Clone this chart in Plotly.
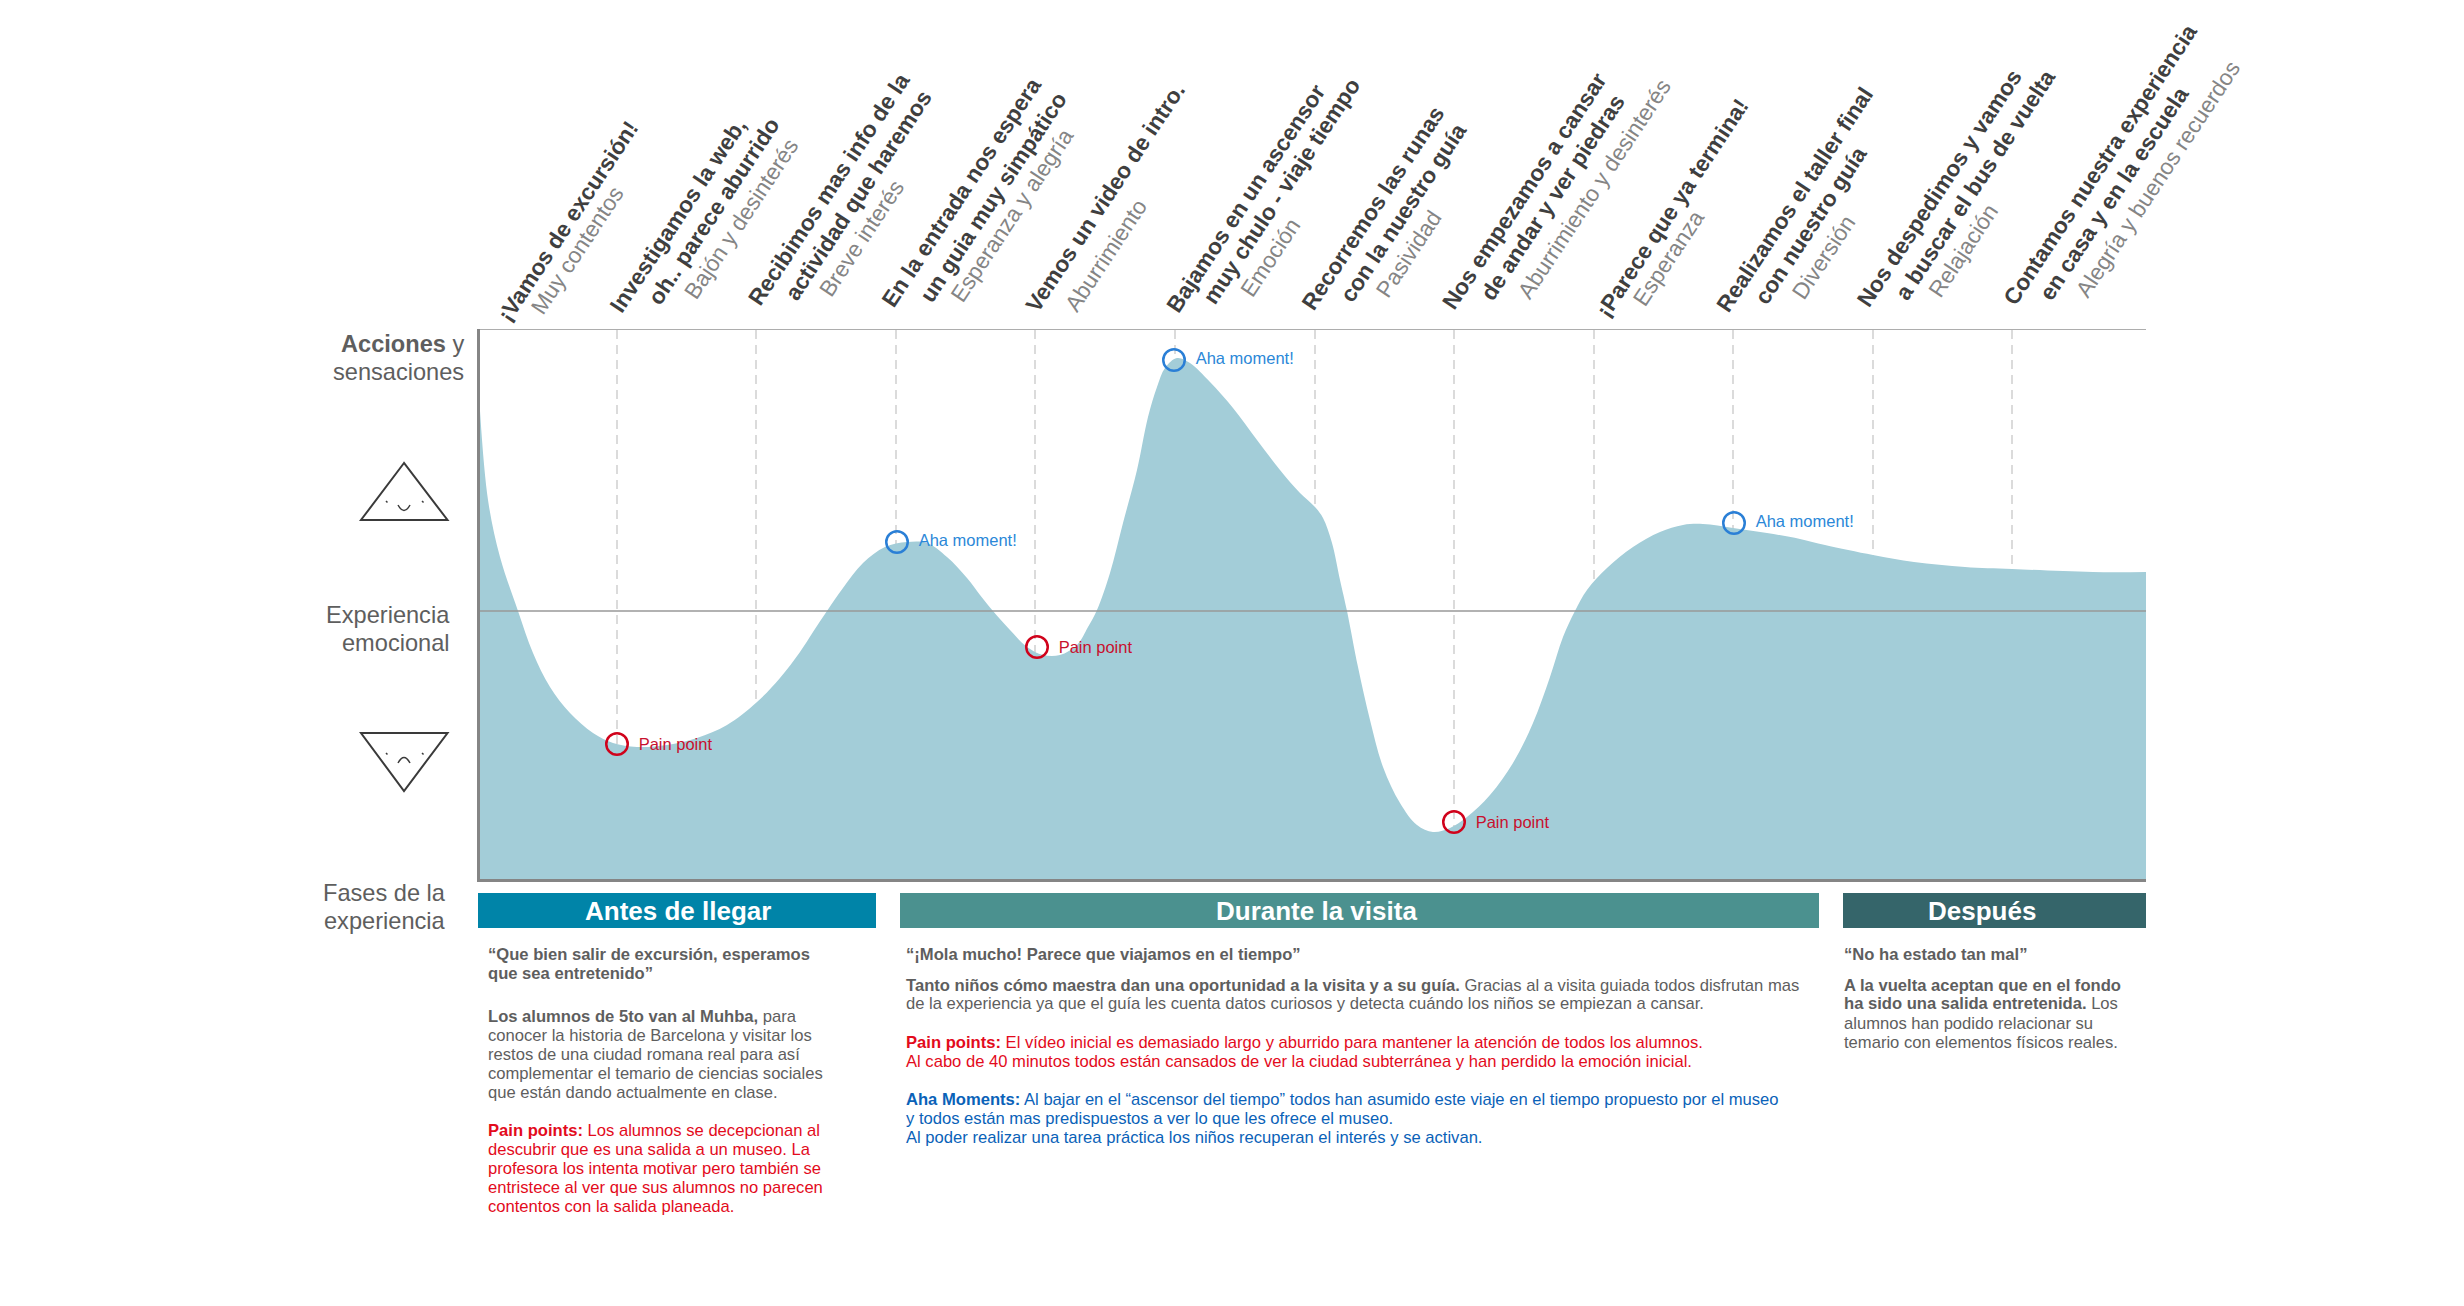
import plotly.graph_objects as go

W, H = 2464, 1306
PLOT_L, PLOT_R, PLOT_T, PLOT_B = 480, 2146, 329, 879

# --- data -------------------------------------------------------------
curve_x = [0,8,20,38,53,70,90,113,133,157,187,217,247,277,300,320,333,347,363,383,405,427,447,467,487,500,513,530,547,563,580,597,608,617,630,643,657,668,677,685,697,710,730,753,777,800,820,835,843,852,860,867,878,890,903,920,937,953,970,987,1010,1033,1053,1070,1083,1095,1107,1127,1153,1180,1203,1223,1253,1287,1320,1345,1393,1434,1485,1532,1613,1666]
curve_y = [200,111,54,0,-42,-76,-102,-122,-132,-136,-134,-127,-114,-91,-67,-41,-21,0,23,48,64,69,68,54,33,16,0,-19,-36,-44,-44,-34,-16,1,38,88,141,194,224,243,253,248,229,203,171,141,118,104,93,68,31,0,-56,-109,-156,-192,-214,-221,-217,-206,-184,-152,-112,-66,-26,0,21,43,64,79,86,87,83,78,72,66,56,49,44,42,39,39]
step_x = [137,276,416,555,695,835,974,1114,1253,1393,1532]
pain_x, pain_y = [137,557,974], [-133,-36,-211]
aha_x, aha_y = [417,694,1254], [69,251,88]

# line starts (page px), text
head_lines = [
 (501,325,"¡Vamos de excursión!",1),(532,315,"Muy contentos",0),
 (613,315,"Investigamos la web,",1),(651,307,"oh.. parece aburrido",1),(686,300,"Bajón y desinterés",0),
 (751,308,"Recibimos mas info de la",1),(788,303,"actividad que haremos",1),(820,297,"Breve interés",0),
 (885,310,"En la entrada nos espera",1),(923,305,"un guia muy simpático",1),(952,303,"Esperanza y alegría",0),
 (1029,315,"Vemos un video de intro.",1),(1066,312,"Aburrimiento",0),
 (1170,315,"Bajamos en un ascensor",1),(1206,307,"muy chulo - viaje tiempo",1),(1241,298,"Emoción",0),
 (1305,313,"Recorremos las runas",1),(1343,305,"con la nuestro guía",1),(1377,298,"Pasividad",0),
 (1445,312,"Nos empezamos a cansar",1),(1484,303,"de andar y ver piedras",1),(1519,300,"Aburrimiento y desinterés",0),
 (1599,320,"¡Parece que ya termina!",1),(1634,307,"Esperanza",0),
 (1720,315,"Realizamos el taller final",1),(1758,307,"con nuestro guía",1),(1793,300,"Diversión",0),
 (1860,310,"Nos despedimos y vamos",1),(1898,303,"a buscar el bus de vuelta",1),(1930,298,"Relajación",0),
 (2007,308,"Contamos nuestra experiencia",1),(2043,303,"en casa y en la escuela",1),(2077,298,"Alegría y buenos recuerdos",0),
]
side_labels = [
 (465,344,"<b>Acciones</b> y"),(465,372,"sensaciones"),
 (451,615,"Experiencia"),(451,643,"emocional"),
 (447,893,"Fases de la"),(447,921,"experiencia"),
]
phases = [
 (478,876,678,"Antes de llegar","#0084a8"),
 (900,1819,1316,"Durante la visita","#4b918f"),
 (1843,2146,1982,"Después","#35656a"),
]
DK,RD,BL = "#5e5e5e","#e30b1c","#0a62b8"
body_lines = [
 (487,954,"<b>“Que bien salir de excursión, esperamos</b>",DK),(487,973,"<b>que sea entretenido”</b>",DK),
 (487,1016,"<b>Los alumnos de 5to van al Muhba,</b> para",DK),(487,1035,"conocer la historia de Barcelona y visitar los",DK),
 (487,1054,"restos de una ciudad romana real para así",DK),(487,1073,"complementar el temario de ciencias sociales",DK),
 (487,1092,"que están dando actualmente en clase.",DK),
 (487,1130,"<b>Pain points:</b> Los alumnos se decepcionan al",RD),(487,1149,"descubrir que es una salida a un museo. La",RD),
 (487,1168,"profesora los intenta motivar pero también se",RD),(487,1187,"entristece al ver que sus alumnos no parecen",RD),
 (487,1206,"contentos con la salida planeada.",RD),
 (905,954,"<b>“¡Mola mucho! Parece que viajamos en el tiempo”</b>",DK),
 (905,985,"<b>Tanto niños cómo maestra dan una oportunidad a la visita y a su guía.</b> Gracias al a visita guiada todos disfrutan mas",DK),
 (905,1004,"de la experiencia ya que el guía les cuenta datos curiosos y detecta cuándo los niños se empiezan a cansar.",DK),
 (905,1042,"<b>Pain points:</b> El vídeo inicial es demasiado largo y aburrido para mantener la atención de todos los alumnos.",RD),
 (905,1061,"Al cabo de 40 minutos todos están cansados de ver la ciudad subterránea y han perdido la emoción inicial.",RD),
 (905,1099,"<b>Aha Moments:</b> Al bajar en el “ascensor del tiempo” todos han asumido este viaje en el tiempo propuesto por el museo",BL),
 (905,1118,"y todos están mas predispuestos a ver lo que les ofrece el museo.",BL),
 (905,1137,"Al poder realizar una tarea práctica los niños recuperan el interés y se activan.",BL),
 (1843,954,"<b>“No ha estado tan mal”</b>",DK),
 (1843,985,"<b>A la vuelta aceptan que en el fondo</b>",DK),(1843,1004,"<b>ha sido una salida entretenida.</b> Los",DK),
 (1843,1023,"alumnos han podido relacionar su",DK),(1843,1042,"temario con elementos físicos reales.",DK),
]
# ----------------------------------------------------------------------
FONT = "Liberation Sans"
YMIN, YMAX = 611 - PLOT_B, 611 - PLOT_T
XMAX = PLOT_R - PLOT_L
px = lambda x: x / W
py = lambda y: 1 - y / H

fig = go.Figure()
dx, dy = [], []
for s in step_x:
    dx += [s, s, None]; dy += [YMIN, YMAX, None]
fig.add_trace(go.Scatter(x=dx, y=dy, mode="lines", line=dict(color="#cfcfcf", width=1.5, dash="9px,6px"), hoverinfo="skip"))
fig.add_trace(go.Scatter(x=[0, XMAX], y=[YMIN, YMIN], mode="lines", line=dict(width=0), hoverinfo="skip"))
fig.add_trace(go.Scatter(x=curve_x, y=curve_y, mode="lines", fill="tonexty", fillcolor="#a3cdd8",
                         line=dict(width=0, shape="spline", smoothing=1.0), hoverinfo="skip"))
fig.add_trace(go.Scatter(x=[0, XMAX], y=[0, 0], mode="lines", line=dict(color="#999999", width=1.5), hoverinfo="skip"))
fig.add_trace(go.Scatter(x=[0, XMAX], y=[YMAX, YMAX], mode="lines", line=dict(color="#adadad", width=2), hoverinfo="skip", cliponaxis=False))
for xs, ys, label, tc, mc, dy_lab in [(pain_x, pain_y, "Pain point", "#c8102e", "#d0021b", -2), (aha_x, aha_y, "Aha moment!", "#2b88d8", "#2a7fd6", 0)]:
    fig.add_trace(go.Scatter(x=xs, y=ys, mode="markers", marker=dict(size=21.5, color="rgba(0,0,0,0)", line=dict(color=mc, width=2.5)), hoverinfo="skip"))
    fig.add_trace(go.Scatter(x=xs, y=[v + dy_lab for v in ys], mode="markers+text", text=[label]*3, textposition="middle right",
                             textfont=dict(family=FONT, size=16.5, color=tc),
                             marker=dict(size=33, color="rgba(0,0,0,0)"), hoverinfo="skip"))

ann, shapes = [], []
ANGLE = -56.5
for x, y, t, b in head_lines:
    txt = f"<b>{t}</b>" if b else t
    ann.append(dict(xref="paper", yref="paper", x=px(x - 10 if b else x - 8), y=py(y + 3 if b else y + 5), xanchor="left", yanchor="bottom",
                    text=txt, textangle=ANGLE, showarrow=False, borderpad=0,
                    font=dict(family=FONT, size=22.7, color="#3f3f3f" if b else "#858585")))
for x, y, t in side_labels:
    ann.append(dict(xref="paper", yref="paper", x=px(x), y=py(y), xanchor="right", yanchor="middle", text=t,
                    showarrow=False, borderpad=0, font=dict(family=FONT, size=23.6, color="#5e5e5e")))
for x, y, t, c in body_lines:
    ann.append(dict(xref="paper", yref="paper", x=px(x), y=py(y), xanchor="left", yanchor="middle", text=t,
                    showarrow=False, borderpad=0, font=dict(family=FONT, size=16.6, color=c)))
for x0, x1, xc, t, c in phases:
    shapes.append(dict(type="rect", xref="paper", yref="paper", x0=px(x0), x1=px(x1), y0=py(893), y1=py(928),
                       fillcolor=c, line=dict(width=0), layer="below"))
    ann.append(dict(xref="paper", yref="paper", x=px(xc), y=py(910.5), xanchor="center", yanchor="middle", text=f"<b>{t}</b>",
                    showarrow=False, borderpad=0, font=dict(family=FONT, size=26, color="white")))

def path(pts, close=False):
    s = "M" + " L".join(f"{px(a):.5f},{py(b):.5f}" for a, b in pts)
    return s + (" Z" if close else "")
def face(tri, eyes, mouth):
    shapes.append(dict(type="path", xref="paper", yref="paper", path=path(tri, True), line=dict(color="#3a3a3a", width=2)))
    for ex, ey in eyes:
        shapes.append(dict(type="path", xref="paper", yref="paper", path=path([(ex, ey), (ex + 1.5, ey + 1.5)]),
                           line=dict(color="#3a3a3a", width=1.5)))
    (a, b), (c, d), (e, f) = mouth
    shapes.append(dict(type="path", xref="paper", yref="paper",
                       path=f"M{px(a):.5f},{py(b):.5f} Q{px(c):.5f},{py(d):.5f} {px(e):.5f},{py(f):.5f}",
                       line=dict(color="#3a3a3a", width=1.5)))
face([(404,463),(361,520),(447.5,520)], [(386,501),(422,501)], [(398,505),(404,516),(410,505)])
face([(361,733),(447.5,733),(404,791)], [(386,753),(422,753)], [(398,763),(404,752),(410,763)])

fig.update_layout(
    width=W, height=H, margin=dict(l=0, r=0, t=0, b=0), paper_bgcolor="white", plot_bgcolor="white",
    showlegend=False, annotations=ann, shapes=shapes,
    xaxis=dict(domain=[PLOT_L / W, PLOT_R / W], range=[0, XMAX], showgrid=False, zeroline=False, showticklabels=False,
               ticks="", showline=True, linecolor="#858585", linewidth=2.5),
    yaxis=dict(domain=[py(PLOT_B), py(PLOT_T)], range=[YMIN, YMAX], showgrid=False, zeroline=False, showticklabels=False,
               ticks="", showline=True, linecolor="#858585", linewidth=2.5),
)
fig.write_html("out.html", config=dict(displayModeBar=False), post_script="document.body.style.margin='0';")
